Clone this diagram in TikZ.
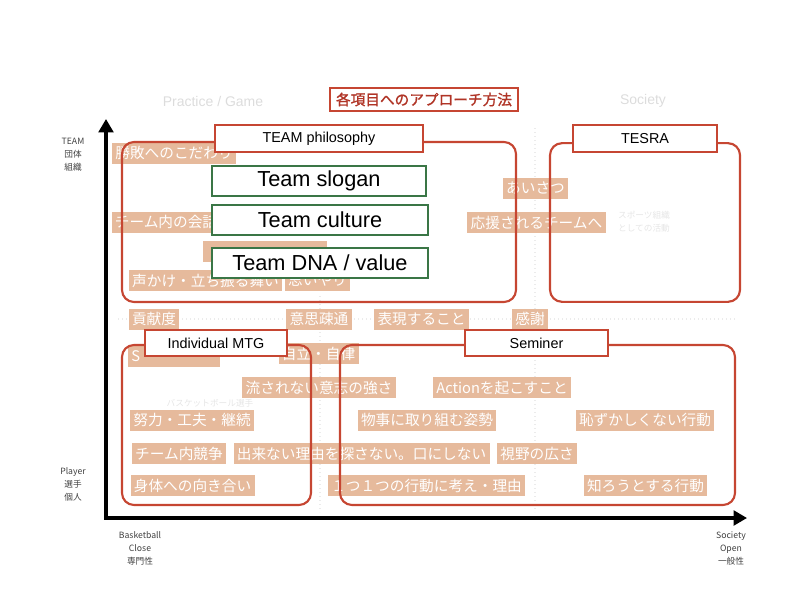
\documentclass[tikz,border=0pt]{standalone}
\usepackage{fontspec}
\setmainfont{Liberation Sans}
\newfontfamily\jp{Noto Sans CJK JP}
\newfontfamily\jpbold[FakeBold=1.2]{Noto Sans CJK JP}
\usetikzlibrary{positioning,arrows.meta}
\definecolor{panelred}{RGB}{198,70,50}
\definecolor{titlered}{RGB}{176,52,38}
\definecolor{mottogreen}{RGB}{58,118,70}
\definecolor{tagfill}{RGB}{230,186,156}
\definecolor{faint}{RGB}{220,220,220}

\begin{document}
\begin{tikzpicture}[
  x=0.75pt, y=-0.75pt,
  tag/.style={fill=tagfill, text=white, font=\jp\fontsize{11}{12}\selectfont,
    inner xsep=2.5pt, inner ysep=0pt, minimum height=15.75pt},
  panel/.style={draw=panelred, line width=1.6pt, rounded corners=9pt, inner sep=0pt},
  head/.style={draw=panelred, fill=white, line width=1.6pt, inner sep=0pt,
    minimum height=20pt, font=\fontsize{10.8}{12}\selectfont},
  motto/.style={draw=mottogreen, fill=white, line width=1.6pt, inner sep=0pt,
    minimum height=22.5pt, font=\fontsize{16.3}{18}\selectfont},
  titlebox/.style={draw=panelred, fill=white, line width=1.2pt, inner sep=0pt,
    minimum width=141pt, minimum height=17.25pt, text=titlered,
    font=\jpbold\fontsize{11}{12}\selectfont},
  axis/.style={line width=2.3pt, line cap=rect, -{Triangle[length=10pt,width=11pt]}},
  axislabel/.style={align=center, text=black!75, font=\jp\fontsize{6.5}{9.75}\selectfont},
  ghost/.style={text=faint, font=\fontsize{10.5}{12}\selectfont},
  faintdot/.style={draw=black!8, dotted, line width=1pt}
]
  \useasboundingbox (0,0) rectangle (800,600);

  % faint background guides
  \draw[faintdot] (118,319) -- (735,319);
  \draw[faintdot] (535,128) -- (535,512);
  \draw[faintdot] (320,296) -- (320,512);
  \node[ghost] (practice) at (213,101) {Practice / Game};
  \node[ghost] (society) at (643,101) {Society};
  \node[ghost, align=center, font=\jp\fontsize{6.5}{9.75}\selectfont, text=black!10]
    (sportsorg) at (644,222) {スポーツ組織\\としての活動};
  \node[ghost, font=\jp\fontsize{6.5}{8}\selectfont, text=black!10]
    (bplayer) at (210,403) {バスケットボール選手};

  % axes
  \coordinate (orig) at (106,518);
  \coordinate (ytip) at (106,119);
  \coordinate (xtip) at (747,518);
  \draw[axis] (orig) -- (ytip);
  \draw[axis] (orig) -- (xtip);
  \node[axislabel] (teamlab) at (73,155) {TEAM\\団体\\組織};
  \node[axislabel] (playerlab) at (73,484) {Player\\選手\\個人};
  \node[axislabel] (closelab) at (140,548) {Basketball\\Close\\専門性};
  \node[axislabel] (openlab) at (731,548) {Society\\Open\\一般性};

  % tags
  \node[tag] (winning) at (174,153) {勝敗へのこだわり};
  \node[tag] (talk) at (166,222) {チーム内の会話};
  \node[tag, minimum width=93pt] (hidden) at (265,251.5) {};
  \node[tag] (voice) at (205.5,280.5) {声かけ・立ち振る舞い};
  \node[tag] (care) at (317.5,280.5) {思いやり};
  \node[tag] (contrib) at (154,319) {貢献度};
  \node[tag] (mutual) at (319,319) {意思疎通};
  \node[tag] (express) at (421.5,319) {表現すること};
  \node[tag] (thanks) at (530,319) {感謝};
  \node[tag] (greet) at (535.5,188) {あいさつ};
  \node[tag] (support) at (536.5,222.5) {応援されるチームへ};
  \node[tag, text width=64pt] (selftag) at (174,356) {S};
  \node[tag] (indep) at (318.5,353.5) {自立・自律};
  \node[tag] (will) at (319,387.5) {流されない意志の強さ};
  \node[tag] (action) at (502,387.5) {Actionを起こすこと};
  \node[tag] (effort) at (192,420) {努力・工夫・継続};
  \node[tag] (attitude) at (427,420) {物事に取り組む姿勢};
  \node[tag] (conduct) at (645,420) {恥ずかしくない行動};
  \node[tag] (compete) at (179,453.5) {チーム内競争};
  \node[tag] (noexcuse) at (361.5,453.5) {出来ない理由を探さない。口にしない};
  \node[tag] (vision) at (537,453.5) {視野の広さ};
  \node[tag] (body) at (192.5,485.5) {身体への向き合い};
  \node[tag] (reason) at (426.5,485.5) {１つ１つの行動に考え・理由};
  \node[tag] (learn) at (645.5,485.5) {知ろうとする行動};

  % panels
  \node[panel, minimum width=295.5pt, minimum height=120pt] (philo) at (319,222) {};
  \node[panel, minimum width=142.5pt, minimum height=119pt] (tesra) at (645,222.5) {};
  \node[panel, minimum width=141.75pt, minimum height=120pt] (indiv) at (216.5,425) {};
  \node[panel, minimum width=296.25pt, minimum height=120pt] (semin) at (537.5,425) {};

  \node[head, minimum width=156pt] (philohead) at (319,138.5) {TEAM philosophy};
  \node[head, minimum width=108pt] (tesrahead) at (645,138.5) {TESRA};
  \node[head, minimum width=106.5pt, minimum height=19.5pt] (indivhead) at (216,343) {Individual MTG};
  \node[head, minimum width=107.25pt, minimum height=19.5pt] (seminhead) at (536.5,343) {Seminer};

  % team mottos
  \node[motto, minimum width=160.5pt] (slogan) at (319,181) {Team slogan};
  \node[motto, minimum width=162pt] (culture) at (320,220) {Team culture};
  \node[motto, minimum width=162pt] (dna) at (320,263) {Team DNA / value};

  % title
  \node[titlebox] (title) at (424,99.5) {各項目へのアプローチ方法};
\end{tikzpicture}
\end{document}
